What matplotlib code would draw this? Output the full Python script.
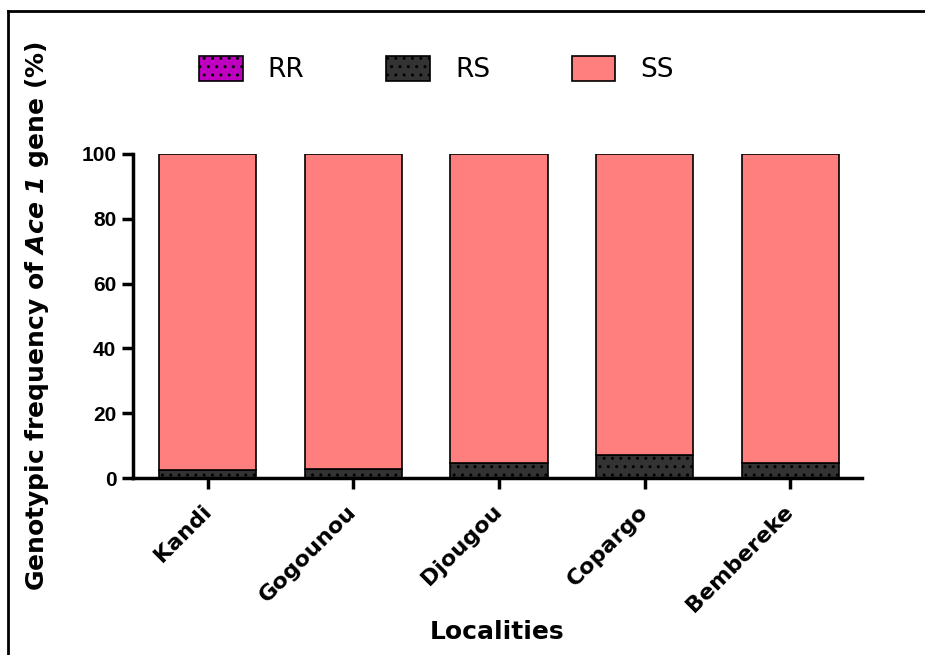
import numpy as np
import matplotlib.pyplot as plt
from matplotlib.patches import Patch
from matplotlib.lines import Line2D

plt.rcParams['mathtext.fontset'] = 'custom'
plt.rcParams['mathtext.it'] = 'DejaVu Sans:italic:bold'
plt.rcParams['mathtext.rm'] = 'DejaVu Sans:italic:bold'
plt.rcParams['hatch.linewidth'] = 1.0

# genotype frequencies (%) of Ace-1 per locality
localities = ['Kandi', 'Gogounou', 'Djougou', 'Copargo', 'Bembereke']
rr = [0.0, 0.0, 0.0, 0.0, 0.0]
rs = [2.5, 2.9, 4.7, 7.1, 4.5]
ss = [97.5, 97.1, 95.3, 92.9, 95.5]

c_rr = '#c000c0'
c_rs = '#333333'
c_ss = '#ff7f7f'

fig = plt.figure(figsize=(9.25, 6.55), dpi=100)
ax = fig.add_axes([0.1438, 0.2702, 0.7882, 0.4947])

x = np.arange(len(localities))
w = 0.667
rr = np.array(rr); rs = np.array(rs); ss = np.array(ss)
ax.bar(x, rr, w, color=c_rr, edgecolor='black', linewidth=1.2, hatch='..')
ax.bar(x, rs, w, bottom=rr, color=c_rs, edgecolor='black', linewidth=1.2, hatch='..')
ax.bar(x, ss, w, bottom=rr + rs, color=c_ss, edgecolor='black', linewidth=1.2)

ax.set_xlim(-0.515, 4.495)
ax.set_ylim(0, 100)
ax.set_yticks([0, 20, 40, 60, 80, 100])
ax.set_xticks(x)
ax.set_xticklabels(localities, rotation=45, ha='right', va='center',
                   rotation_mode='anchor', fontsize=16, fontweight='bold',
                   family='DejaVu Sans')
for lab in ax.get_yticklabels():
    lab.set_fontsize(15)
    lab.set_fontweight('bold')
    lab.set_family('Liberation Sans')

for s in ['top', 'right']:
    ax.spines[s].set_visible(False)
for s in ['left', 'bottom']:
    ax.spines[s].set_linewidth(2.5)
ax.tick_params('both', width=2.5, length=8, direction='out', pad=4)
ax.tick_params('x', pad=14)

ax.set_ylabel(r'Genotypic frequency of $\mathit{Ace\ 1}$ gene (%)', fontsize=18,
              fontweight='bold')
ax.yaxis.set_label_coords(-0.112, 0.5)
ax.set_xlabel('Localities', fontsize=18, fontweight='bold')
ax.xaxis.set_label_coords(0.499, -0.437)

handles = [Patch(facecolor=c_rr, edgecolor='black', hatch='..', linewidth=1.2),
           Patch(facecolor=c_rs, edgecolor='black', hatch='..', linewidth=1.2),
           Patch(facecolor=c_ss, edgecolor='black', linewidth=1.2)]
fig.legend(handles, ['RR', 'RS', 'SS'], ncol=3, loc='center',
           bbox_to_anchor=(0.472, 0.894), frameon=False, fontsize=19,
           handlelength=1.65, handleheight=1.1, handletextpad=0.95,
           columnspacing=3.1)

# frame around the figure
fig.add_artist(Line2D([0.0086, 1.0], [0.983, 0.983], color='black', lw=2))
fig.add_artist(Line2D([0.0086, 0.0086], [0.0, 0.983], color='black', lw=2))

fig.savefig('out.png', dpi=100)
